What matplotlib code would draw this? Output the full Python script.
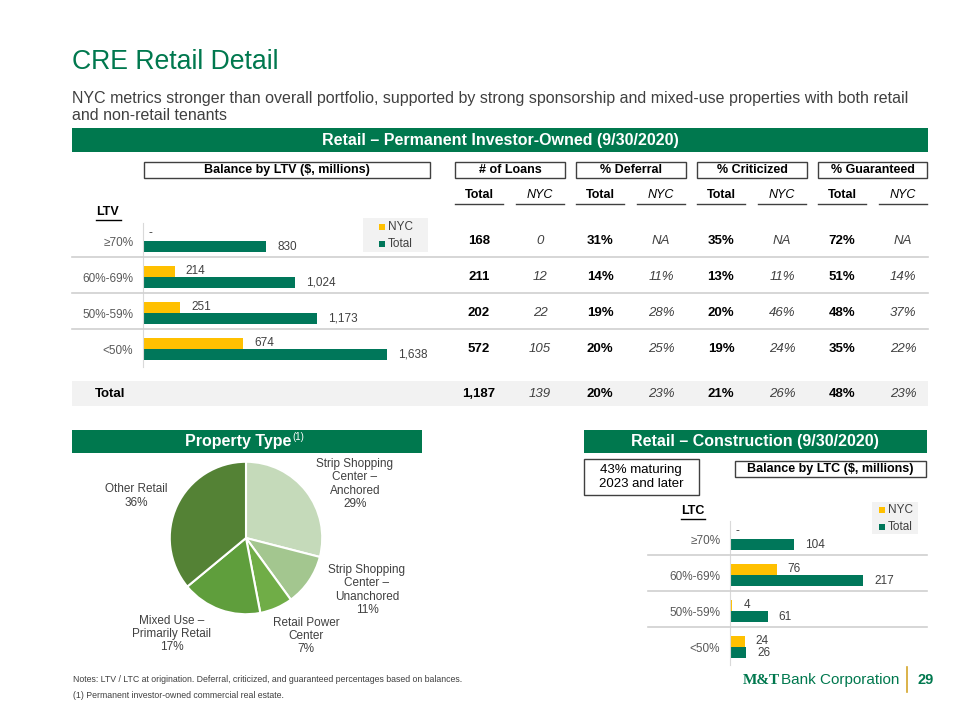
import matplotlib
matplotlib.use("Agg")
import matplotlib.pyplot as plt
from matplotlib.patches import Rectangle
from matplotlib.lines import Line2D

plt.rcParams['font.family'] = ['Liberation Sans', 'DejaVu Sans']

# ---- data ----
ltv_labels = ["≥70%", "60%-69%", "50%-59%", "<50%"]
ltv_nyc = [0, 214, 251, 674]
ltv_total = [830, 1024, 1173, 1638]

col_groups = ["# of Loans", "% Deferral", "% Criticized", "% Guaranteed"]
loans_total = ["168", "211", "202", "572"]
loans_nyc = ["0", "12", "22", "105"]
deferral_total = ["31%", "14%", "19%", "20%"]
deferral_nyc = ["NA", "11%", "28%", "25%"]
criticized_total = ["35%", "13%", "20%", "19%"]
criticized_nyc = ["NA", "11%", "46%", "24%"]
guaranteed_total = ["72%", "51%", "48%", "35%"]
guaranteed_nyc = ["NA", "14%", "37%", "22%"]
total_row = ["1,187", "139", "20%", "23%", "21%", "26%", "48%", "23%"]

prop_labels = ["Strip Shopping\nCenter –\nAnchored", "Strip Shopping\nCenter –\nUnanchored",
               "Retail Power\nCenter", "Mixed Use –\nPrimarily Retail", "Other Retail"]
prop_share = [29, 11, 7, 17, 36]

ltc_labels = ["≥70%", "60%-69%", "50%-59%", "<50%"]
ltc_nyc = [0, 76, 4, 24]
ltc_total = [104, 217, 61, 26]

GREEN = "#00784E"
BAR_GREEN = "#00775A"
YELLOW = "#FFC000"
GRAY_TXT = "#404040"
SEP = "#D0D0D0"
pie_colors = ["#C5DABA", "#A3C68F", "#70AD47", "#5F9E3C", "#548235"]

W, H = 960, 720
fig = plt.figure(figsize=(9.6, 7.2), dpi=100)


def fx(x):
    return x / W


def fy(y):
    return 1 - y / H


def axes_px(x0, y0, x1, y1):
    return fig.add_axes([fx(x0), fy(y1), (x1 - x0) / W, (y1 - y0) / H])


def text(x, y, s, **kw):
    kw.setdefault("va", "center")
    return fig.text(fx(x), fy(y), s, **kw)


def rect(x0, y0, x1, y1, fc="none", ec="none", lw=1.0):
    fig.add_artist(Rectangle((fx(x0), fy(y1)), (x1 - x0) / W, (y1 - y0) / H,
                             transform=fig.transFigure, fc=fc, ec=ec, lw=lw))


def line(x0, y0, x1, y1, color, lw=1.0):
    fig.add_artist(Line2D([fx(x0), fx(x1)], [fy(y0), fy(y1)],
                          transform=fig.transFigure, color=color, lw=lw))


def fmt(v):
    return "-" if v == 0 else f"{v:,}"


def draw_bars(ax, labels, nyc, total, xmax):
    pos = list(range(len(labels)))
    off, h = 0.155, 0.31
    ax.barh([p - off for p in pos], nyc, height=h, color=YELLOW)
    ax.barh([p + off for p in pos], total, height=h, color=BAR_GREEN)
    for p, a, b in zip(pos, nyc, total):
        ax.annotate(fmt(a), (a, p - off), xytext=(4 if a == 0 else 8, 2 if a == 0 else 0),
                    textcoords="offset points", va="center", fontsize=8.5, color=GRAY_TXT)
        ax.annotate(fmt(b), (b, p + off), xytext=(8, 0),
                    textcoords="offset points", va="center", fontsize=8.5, color=GRAY_TXT)
    ax.set_xlim(0, xmax)
    ax.set_ylim(len(labels) - 0.5, -0.5)
    ax.set_yticks(pos)
    ax.set_yticklabels(labels, fontsize=8.5, color="#595959")
    ax.tick_params(axis="y", length=0, pad=7)
    ax.set_xticks([])
    for s in ["top", "right", "bottom"]:
        ax.spines[s].set_visible(False)
    ax.spines["left"].set_color("#D9D9D9")
    ax.patch.set_alpha(0)


def legend_box(x0, y0, x1, y1, sq_x, rows_y):
    # small NYC / Total key drawn as in the slide
    rect(x0, y0, x1, y1, fc="#F2F2F2")
    for y, c, name in zip(rows_y, [YELLOW, BAR_GREEN], ["NYC", "Total"]):
        rect(sq_x, y - 3, sq_x + 6, y + 3, fc=c)
        text(sq_x + 9, y, name, fontsize=8.5, color=GRAY_TXT)


# ---- title ----
text(72, 62, "CRE Retail Detail", fontsize=19.2, color=GREEN)
text(72, 98, "NYC metrics stronger than overall portfolio, supported by strong sponsorship "
     "and mixed-use properties with both retail", fontsize=11.5, color=GRAY_TXT)
text(72, 116, "and non-retail tenants", fontsize=11.5, color=GRAY_TXT)

# ---- top section ----
rect(72, 128, 928, 152, fc=GREEN)
text(500, 140, "Retail – Permanent Investor-Owned (9/30/2020)", ha="center",
     fontsize=11.5, weight="bold", color="white")

rect(144, 162, 430, 178, ec=GRAY_TXT, lw=1.0)
text(287, 170, "Balance by LTV ($, millions)", ha="center", fontsize=9, weight="bold")

group_x = [(455, 565), (576, 686), (697, 807), (818, 927)]
for (a, b), name in zip(group_x, col_groups):
    rect(a, 162, b, 178, ec=GRAY_TXT, lw=1.0)
    text((a + b) / 2, 170, name, ha="center", fontsize=9, weight="bold")

col_x = [479, 540, 600, 661, 721, 782, 842, 903]
for i, cx in enumerate(col_x):
    nyc = i % 2 == 1
    text(cx, 195, "NYC" if nyc else "Total", ha="center", fontsize=9,
         weight="normal" if nyc else "bold", style="italic" if nyc else "normal")
    line(cx - 24, 204, cx + 24, 204, GRAY_TXT, lw=1.0)

text(96, 212, "LTV", fontsize=9, weight="bold")
line(96, 220, 121, 220, "black", lw=1.0)

row_y = [241, 277, 313, 349]
for y in [257, 293, 329]:
    line(72, y, 928, y, SEP, lw=1.2)

columns = [loans_total, loans_nyc, deferral_total, deferral_nyc,
           criticized_total, criticized_nyc, guaranteed_total, guaranteed_nyc]
for i, (cx, vals) in enumerate(zip(col_x, columns)):
    nyc = i % 2 == 1
    for y, v in zip(row_y, vals):
        text(cx, y, v, ha="center", fontsize=9.5,
             weight="normal" if nyc else "bold", style="italic" if nyc else "normal",
             color=GRAY_TXT if nyc else "black")

rect(72, 381, 928, 406, fc="#F2F2F2")
text(95, 394, "Total", fontsize=9.5, weight="bold")
for i, (cx, v) in enumerate(zip(col_x, total_row)):
    nyc = i % 2 == 1
    text(cx, 394, v, ha="center", fontsize=9.5,
         weight="normal" if nyc else "bold", style="italic" if nyc else "normal",
         color=GRAY_TXT if nyc else "black")

ax1 = axes_px(143, 223, 440.4, 367)
draw_bars(ax1, ltv_labels, ltv_nyc, ltv_total, 2000)
legend_box(363, 218, 428, 252, 379, [227, 244])

# ---- property type pie ----
rect(72, 430, 422, 453, fc=GREEN)
text(238, 441, "Property Type", ha="center", fontsize=11.5, weight="bold", color="white")
text(292, 437, "(1)", fontsize=7, color="white")

axp = axes_px(169, 461, 323, 615)
axp.pie(prop_share, colors=pie_colors, startangle=90, counterclock=False,
        wedgeprops=dict(edgecolor="white", linewidth=1.5))
axp.set_xlim(-1.01, 1.01)
axp.set_ylim(-1.01, 1.01)
axp.set_aspect("equal")

pie_pos = [(355, 484), (367, 590), (306, 636), (172, 634), (136, 496)]
for (px_, py_), lab, v in zip(pie_pos, prop_labels, prop_share):
    text(px_, py_, f"{lab}\n{v}%", ha="center", fontsize=8.5, color=GRAY_TXT,
         linespacing=1.15)

# ---- construction ----
rect(584, 430, 927, 453, fc=GREEN)
text(755, 441, "Retail – Construction (9/30/2020)", ha="center", fontsize=11.5,
     weight="bold", color="white")

rect(584, 459, 699, 495, ec=GRAY_TXT, lw=1.0)
text(641, 477, "43% maturing\n2023 and later", ha="center", fontsize=9.5,
     linespacing=1.3)
rect(735, 461, 926, 477, ec=GRAY_TXT, lw=1.0)
text(830, 469, "Balance by LTC ($, millions)", ha="center", fontsize=9, weight="bold")

text(681, 511, "LTC", fontsize=9, weight="bold")
line(681, 519, 705, 519, "black", lw=1.0)

for y in [555, 591, 627]:
    line(648, y, 927, y, SEP, lw=1.2)

ax2 = axes_px(730, 521, 926.8, 665)
draw_bars(ax2, ltc_labels, ltc_nyc, ltc_total, 320)
legend_box(872, 502, 918, 534, 879, [510, 527])

# ---- footer ----
text(73, 679, "Notes: LTV / LTC at origination. Deferral, criticized, and guaranteed "
     "percentages based on balances.", fontsize=6.3, color=GRAY_TXT)
text(73, 696, "(1) Permanent investor-owned commercial real estate.", fontsize=6.3,
     color=GRAY_TXT)

text(743, 680, "M&T", fontsize=11, weight="bold", family="Liberation Serif", color=GREEN)
text(781, 680, "Bank Corporation", fontsize=11, color=GREEN)
line(907, 667, 907, 692, "#D4A62A", lw=1.2)
text(918, 680, "29", fontsize=10.5, weight="bold", color=GREEN)

fig.savefig("out.png", dpi=100)
